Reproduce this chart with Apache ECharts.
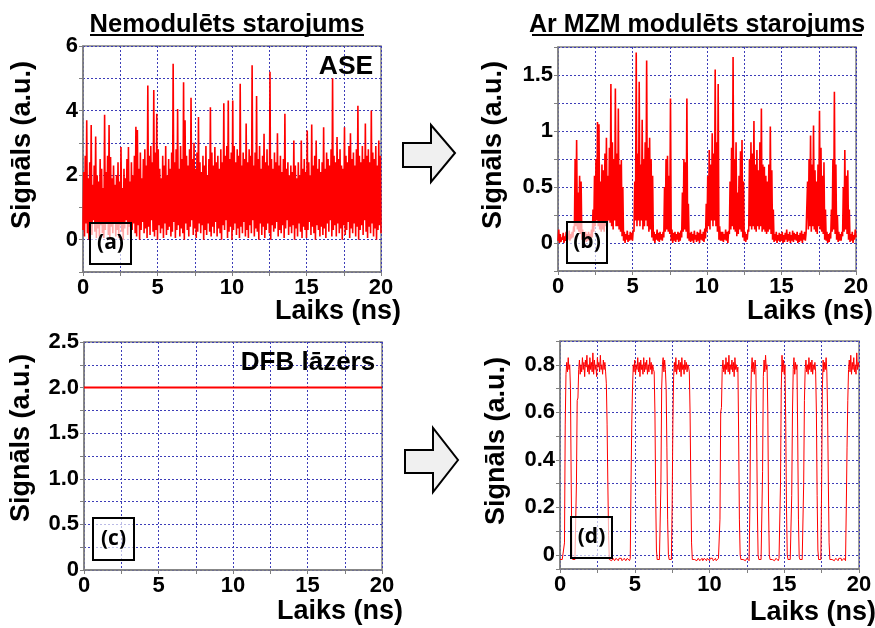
<!DOCTYPE html>
<html><head><meta charset="utf-8">
<script src="https://cdn.jsdelivr.net/npm/echarts@6/dist/echarts.min.js"></script>
<style>html,body{margin:0;padding:0;background:#fff}#c{width:875px;height:628px}</style>
</head><body><div id="c"></div>
<script>
// ---- Data ----
// Panel (a): ASE, unmodulated. Per 0.1 ns bin: low and high of the noisy trace (a.u.)
const aHi = [
2.1,2.6,3.7,1.9,2.4,3.55,1.7,2.3,3.2,2.0,
1.8,2.5,2.2,1.6,3.87,2.1,2.6,3.55,2.56,1.9,
2.3,1.7,2.0,2.4,1.8,2.87,1.6,2.2,1.9,2.5,
2.87,1.8,2.4,2.0,2.6,3.5,3.4,2.2,2.7,1.9,
2.5,2.8,2.3,4.78,2.6,2.9,2.4,4.64,2.7,3.9,
2.8,2.2,1.9,2.6,2.3,2.9,2.0,2.5,2.2,2.7,
5.45,2.4,2.8,4.05,2.2,2.9,2.5,4.88,3.7,2.6,
2.3,2.8,4.4,2.5,3.0,2.2,2.7,3.8,2.4,2.1,
2.6,2.3,2.9,2.0,2.5,4.1,2.7,2.3,2.87,2.4,
2.6,2.2,2.8,2.4,4.23,2.6,2.9,4.31,2.5,2.7,
4.31,2.9,2.4,2.8,2.6,4.83,2.3,2.7,2.5,3.6,
2.4,2.8,2.6,5.4,2.3,2.7,4.45,2.5,2.9,2.2,
2.6,3.28,2.4,2.8,2.3,5.2,2.5,2.2,2.7,2.4,
3.3,2.3,2.6,2.1,2.5,3.9,2.2,2.4,2.0,2.3,
2.1,3.07,2.3,1.9,2.4,2.0,3.07,2.2,2.5,2.1,
3.38,2.4,2.0,3.57,2.3,2.6,3.07,2.2,2.5,2.1,
2.4,3.48,2.2,2.7,2.5,2.3,2.8,5.0,2.6,2.4,
3.18,2.5,2.8,2.3,2.2,3.48,2.6,2.4,2.9,3.3,
2.5,2.7,2.3,2.8,4.15,2.6,2.4,2.9,2.5,3.6,
2.6,2.8,2.4,4.0,2.7,2.5,2.9,2.3,3.07,2.6];
const aLo = [
0.3,0.1,0.5,0.2,0.0,0.4,0.15,0.6,0.25,0.05,
0.35,0.1,0.45,0.2,0.05,0.3,0.55,0.15,0.0,0.4,
0.2,0.5,0.1,0.3,0.05,0.45,0.25,0.0,0.35,0.6,
0.15,0.4,0.05,0.3,0.5,0.2,0.1,0.45,0.0,0.3,
0.55,0.2,0.35,0.05,0.4,0.15,0.6,0.25,0.1,0.3,
0.0,0.45,0.2,0.35,0.05,0.5,0.15,0.3,0.4,0.1,
0.25,0.55,0.05,0.3,0.45,0.1,0.35,0.2,0.0,0.5,
0.3,0.1,0.4,0.6,0.15,0.35,0.05,0.25,0.5,0.2,
0.45,0.0,0.3,0.15,0.5,0.25,0.1,0.4,0.2,0.55,
0.1,0.35,0.2,0.0,0.45,0.3,0.6,0.05,0.25,0.4,
0.0,0.3,0.5,0.15,0.35,0.05,0.4,0.2,0.55,0.1,
0.3,0.05,0.45,0.2,0.6,0.1,0.35,0.25,0.0,0.5,
0.15,0.4,0.05,0.3,0.5,0.2,0.0,0.45,0.25,0.35,
0.55,0.1,0.3,0.2,0.45,0.05,0.35,0.6,0.15,0.4,
0.2,0.45,0.0,0.35,0.1,0.5,0.25,0.05,0.4,0.3,
0.05,0.3,0.55,0.15,0.4,0.2,0.0,0.45,0.3,0.1,
0.4,0.15,0.35,0.05,0.5,0.25,0.6,0.1,0.3,0.45,
0.1,0.5,0.2,0.35,0.0,0.45,0.15,0.3,0.55,0.05,
0.35,0.2,0.5,0.1,0.4,0.0,0.3,0.45,0.15,0.6,
0.25,0.05,0.4,0.2,0.5,0.1,0.35,0.0,0.3,0.45,
0.2];

// Panel (b): ASE after MZM. Per 0.1 ns bin: high and low of the trace (a.u.)
const bHi = [
0.12,0.08,0.05,0.09,0.06,0.1,0.07,0.11,0.08,0.1,
0.15,0.75,0.92,0.45,0.6,0.55,0.12,0.09,0.1,0.08,
0.1,0.08,0.12,0.3,0.6,0.75,1.08,1.06,0.55,0.7,
0.65,0.8,0.94,0.6,0.85,1.42,0.9,0.75,1.38,0.8,
1.2,0.7,0.74,0.5,0.1,0.08,0.11,0.07,0.1,0.09,
0.12,0.55,1.7,0.8,1.44,0.7,1.1,0.75,0.9,1.63,
0.85,0.94,0.75,0.6,0.1,0.08,0.12,0.09,0.1,0.08,
0.1,0.5,0.75,0.78,0.6,1.29,0.12,0.09,0.1,0.08,
0.1,0.09,0.11,0.45,0.75,0.72,1.29,0.35,0.09,0.1,
0.08,0.11,0.07,0.1,0.09,0.12,0.08,0.1,0.13,0.35,
0.6,0.83,0.7,0.98,0.8,1.55,0.9,1.42,0.15,0.1,
0.1,0.08,0.12,0.1,0.11,0.55,0.85,1.66,0.75,0.9,
0.45,0.6,0.82,0.92,0.55,0.1,0.08,0.12,0.75,0.9,
0.8,1.09,0.7,0.83,0.65,0.9,1.2,0.7,0.68,0.6,
0.55,0.7,1.04,0.65,0.3,0.08,0.1,0.07,0.09,0.08,
0.1,0.07,0.09,0.12,0.08,0.1,0.07,0.11,0.09,0.08,
0.1,0.07,0.09,0.11,0.08,0.1,0.09,0.55,0.75,0.96,
0.7,1.05,0.65,0.55,0.7,1.18,0.85,0.6,0.72,0.3,
0.1,0.08,0.09,0.3,0.75,1.35,0.7,0.25,0.1,0.08,
0.1,0.5,0.83,0.6,0.65,0.3,0.08,0.1,0.07,0.12];
const bLo = [
0.02,0.0,0.01,0.03,0.0,0.02,0.01,0.03,0.02,0.04,
0.05,0.1,0.15,0.12,0.1,0.08,0.03,0.02,0.03,0.01,
0.02,0.03,0.04,0.05,0.1,0.15,0.2,0.15,0.12,0.1,
0.12,0.1,0.15,0.1,0.2,0.18,0.15,0.12,0.2,0.15,
0.15,0.12,0.1,0.06,0.02,0.0,0.03,0.01,0.02,0.03,
0.02,0.1,0.2,0.15,0.2,0.15,0.2,0.12,0.15,0.2,
0.15,0.1,0.12,0.05,0.02,0.0,0.03,0.02,0.01,0.03,
0.02,0.05,0.1,0.12,0.1,0.08,0.02,0.0,0.02,0.01,
0.03,0.01,0.02,0.05,0.1,0.12,0.1,0.04,0.02,0.01,
0.02,0.0,0.03,0.01,0.02,0.0,0.03,0.02,0.01,0.04,
0.1,0.15,0.12,0.2,0.15,0.2,0.15,0.1,0.03,0.02,
0.02,0.01,0.03,0.02,0.0,0.08,0.12,0.15,0.12,0.1,
0.06,0.08,0.12,0.1,0.05,0.02,0.01,0.03,0.1,0.15,
0.12,0.15,0.12,0.1,0.15,0.12,0.15,0.1,0.12,0.1,
0.08,0.1,0.12,0.08,0.03,0.01,0.02,0.0,0.02,0.01,
0.02,0.0,0.01,0.03,0.01,0.02,0.0,0.02,0.01,0.03,
0.02,0.0,0.01,0.02,0.0,0.03,0.02,0.08,0.12,0.15,
0.1,0.15,0.12,0.1,0.08,0.15,0.12,0.1,0.08,0.03,
0.02,0.0,0.01,0.04,0.1,0.12,0.08,0.03,0.01,0.02,
0.02,0.06,0.1,0.12,0.08,0.03,0.01,0.02,0.0,0.03,
0.05];

// Panel (c): DFB laser, constant level (a.u.) at start and end times (ns)
const cTimes = [0, 20];
const cValues = [2.0, 2.0];

// Panel (d): DFB after MZM, trace sampled every 0.05 ns (a.u.)
const dTrace = [
-0.02,-0.015,-0.025,-0.02,-0.015,-0.02,0.05,0.55,0.76,
0.81,0.77,0.83,0.78,0.80,0.7,0.3,-0.01,
-0.02,-0.025,-0.015,-0.02,-0.02,0.3,0.65,0.66,0.78,
0.82,0.76,0.80,0.77,0.83,0.78,0.81,0.75,0.82,0.79,
0.84,0.77,0.80,0.76,0.83,0.78,0.81,0.77,0.85,0.76,
0.82,0.78,0.80,0.75,0.83,0.79,0.81,0.77,0.84,0.78,
0.80,0.76,0.82,0.78,0.81,0.77,
0.72,0.55,0.3,0.08,-0.02,
-0.02,-0.015,-0.025,-0.02,-0.015,-0.02,-0.025,-0.02,-0.015,-0.02,
-0.02,-0.025,-0.015,-0.02,-0.02,-0.015,-0.025,-0.02,-0.02,-0.015,
-0.02,-0.025,-0.02,-0.015,-0.02,-0.02,-0.025,-0.015,
0.3,0.55,0.7,0.8,
0.77,0.82,0.76,0.80,0.78,0.83,0.77,0.81,0.75,0.82,
0.78,0.80,0.76,0.83,0.77,0.81,0.78,0.82,0.76,0.80,
0.77,0.83,0.78,0.81,0.76,0.80,0.78,0.77,
0.6,0.25,0.02,
-0.02,-0.025,-0.015,-0.02,-0.02,
0.3,0.7,0.8,
0.83,0.77,0.82,0.78,
0.7,0.45,0.15,0.0,
-0.02,-0.015,-0.025,-0.02,
0.2,0.55,0.75,
0.81,0.77,0.83,0.76,0.80,0.78,0.82,0.77,0.81,0.75,
0.83,0.78,0.80,0.76,0.82,0.78,0.81,0.77,0.80,0.79,0.77,
0.6,0.3,0.05,
-0.02,-0.015,-0.025,-0.02,-0.02,-0.015,-0.025,-0.02,-0.015,-0.02,
-0.025,-0.02,-0.02,-0.015,-0.025,-0.02,-0.015,-0.02,-0.02,-0.025,
-0.015,-0.02,-0.02,-0.025,-0.015,-0.02,-0.02,-0.015,-0.025,-0.02,
-0.02,-0.015,-0.025,-0.02,-0.02,-0.015,-0.02,
0.15,0.6,0.62,0.78,
0.82,0.77,0.80,0.76,0.83,0.78,0.81,0.77,0.84,0.76,
0.80,0.78,0.82,0.77,0.81,0.75,0.83,0.78,0.80,0.77,0.79,
0.5,0.15,0.0,
-0.02,-0.015,-0.025,-0.02,-0.02,-0.015,-0.025,-0.02,-0.015,-0.02,-0.02,-0.025,
0.2,0.6,0.78,
0.83,0.77,0.81,0.76,0.82,0.78,
0.55,0.2,0.0,
-0.02,-0.015,-0.025,-0.02,-0.02,
0.35,0.75,
0.82,0.77,0.84,0.78,0.80,
0.6,0.2,0.0,
-0.02,-0.015,-0.025,-0.02,-0.02,-0.015,-0.025,-0.02,-0.015,-0.02,-0.02,-0.025,-0.015,-0.02,
0.3,0.7,
0.84,0.77,0.82,0.76,0.80,
0.55,0.2,0.0,
-0.02,-0.015,-0.025,-0.02,-0.02,
0.25,0.6,0.78,
0.83,0.76,0.81,0.78,0.80,
0.5,0.15,-0.01,
-0.02,-0.025,-0.015,-0.02,-0.02,
0.3,0.65,0.78,
0.82,0.77,0.80,0.76,0.83,0.78,0.81,0.77,0.82,0.76,0.80,0.78,0.81,0.77,
0.6,0.25,0.02,
-0.02,-0.015,-0.025,-0.02,
0.3,0.7,
0.82,0.77,0.81,0.78,0.83,0.77,
0.6,0.3,0.05,
-0.02,-0.015,-0.025,-0.02,-0.02,-0.015,-0.025,-0.02,-0.015,-0.02,
-0.02,-0.025,-0.015,-0.02,-0.02,-0.015,-0.025,-0.02,-0.02,-0.015,-0.02,-0.025,
0.2,0.45,0.65,0.78,
0.82,0.77,0.84,0.76,0.81,0.78,0.83,0.77,0.80,0.76,0.85,0.78,0.81,0.79];

// Axis tick labels
const xTickLabels = ['0','5','10','15','20'];
const aYLabels = ['0','2','4','6'];
const bYLabels = ['0','0.5','1','1.5'];
const cYLabels = ['0','0.5','1.0','1.5','2.0','2.5'];
const dYLabels = ['0','0.2','0.4','0.6','0.8'];

// Texts
const titleLeft = 'Nemodulēts starojums';
const titleRight = 'Ar MZM modulēts starojums';
const yTitle = 'Signāls (a.u.)';
const xTitle = 'Laiks (ns)';

// ---- Build series data ----
function envelopeTrace(hi, lo, step) {
  const out = [];
  for (let i = 0; i < hi.length; i++) {
    out.push([+(i * step).toFixed(3), lo[i]]);
    out.push([+(i * step + step / 2).toFixed(3), hi[i]]);
  }
  out.push([+(hi.length * step).toFixed(3), lo[hi.length]]);
  return out;
}
const aData = envelopeTrace(aHi, aLo, 0.1);
const bData = envelopeTrace(bHi, bLo, 0.1);
const cData = cTimes.map((t, i) => [t, cValues[i]]);
const dData = dTrace.map((v, k) => [+(k * 0.05).toFixed(3), v]);

// ---- Styling ----
const FF = '"Liberation Sans", Arial, sans-serif';
const axisGray = '#808080';
const gridBlue = '#3c3cb8';

function labelFmt(list) {
  return function (v) {
    for (const s of list) { if (Math.abs(parseFloat(s) - v) < 1e-6) return s; }
    return '';
  };
}
function xAxisCfg(gi) {
  return {
    type: 'value', gridIndex: gi, min: 0, max: 20, interval: 2.5,
    axisLine: { onZero: false, lineStyle: { color: axisGray, width: 1.5 } },
    axisTick: { show: true, length: 4, lineStyle: { color: axisGray } },
    axisLabel: { formatter: labelFmt(xTickLabels), fontFamily: FF, fontWeight: 'bold', fontSize: 22, color: '#000', margin: 5 },
    splitLine: { show: true, lineStyle: { color: gridBlue, type: [2, 2], width: 1 } }
  };
}
function yAxisCfg(gi, extra, labels) {
  return Object.assign({
    type: 'value', gridIndex: gi,
    axisLine: { show: true, lineStyle: { color: axisGray, width: 1.5 } },
    axisTick: { show: true, length: 4, lineStyle: { color: axisGray } },
    axisLabel: { formatter: labelFmt(labels), fontFamily: FF, fontWeight: 'bold', fontSize: 22, color: '#000', margin: 5 },
    splitLine: { show: true, lineStyle: { color: gridBlue, type: [2, 2], width: 1 } }
  }, extra);
}
function lineSeries(gi, data, w) {
  return {
    type: 'line', xAxisIndex: gi, yAxisIndex: gi, data: data, showSymbol: false, symbol: 'none',
    sampling: null, clip: true, animation: false,
    lineStyle: { color: '#ff0000', width: w }
  };
}
function txt(x, y, s, size, rot, font) {
  return {
    type: 'text', x: x, y: y, rotation: rot || 0, z: 100,
    style: { text: s, x: 0, y: 0, align: 'center', verticalAlign: 'middle', textAlign: 'center', textVerticalAlign: 'middle',
      fontFamily: font || FF, fontWeight: 'bold', fontSize: size, fill: '#000' }
  };
}
function box(x, y, w, h, label) {
  return [
    { type: 'rect', z: 100, shape: { x: x, y: y, width: w, height: h },
      style: { fill: 'rgba(255,255,255,0.65)', stroke: '#000', lineWidth: 2 } },
    txt(x + w / 2, y + h / 2, label, 21, 0, '"Open Sans", sans-serif')
  ];
}
function arrow(pts) {
  return { type: 'polygon', z: 100, shape: { points: pts },
    style: { fill: '#f0f0f0', stroke: '#000', lineWidth: 2, lineJoin: 'miter' } };
}

const grids = [
  { left: 83, top: 46, width: 298, height: 226 },
  { left: 558, top: 47, width: 298, height: 224 },
  { left: 84, top: 342, width: 298, height: 228 },
  { left: 560, top: 341, width: 299, height: 228 }
].map(g => Object.assign({ show: true, borderColor: axisGray, borderWidth: 1.5, backgroundColor: 'transparent' }, g));

const option = {
  animation: false,
  backgroundColor: '#ffffff',
  grid: grids,
  xAxis: [xAxisCfg(0), xAxisCfg(1), xAxisCfg(2), xAxisCfg(3)],
  yAxis: [
    yAxisCfg(0, { min: -1, max: 6, interval: 1 }, aYLabels),
    yAxisCfg(1, { min: -0.25, max: 1.75, interval: 0.25 }, bYLabels),
    yAxisCfg(2, { min: 0, max: 2.5, interval: 0.25 }, cYLabels),
    yAxisCfg(3, { min: -0.06, max: 0.9, splitNumber: 10, minInterval: 0.1, maxInterval: 0.1 }, dYLabels)
  ],
  series: [
    lineSeries(0, aData, 1.6),
    lineSeries(1, bData, 1.6),
    lineSeries(2, cData, 2),
    lineSeries(3, dData, 1)
  ],
  graphic: [].concat(
    [txt(227, 25, titleLeft, 25.5), { type: 'line', z: 100, shape: { x1: 90, y1: 35, x2: 364, y2: 35 }, style: { stroke: '#000', lineWidth: 2 } }],
    [txt(697, 25, titleRight, 25), { type: 'line', z: 100, shape: { x1: 532, y1: 35, x2: 862, y2: 35 }, style: { stroke: '#000', lineWidth: 2 } }],
    [txt(23, 145, yTitle, 27, Math.PI / 2), txt(494, 145, yTitle, 27, Math.PI / 2),
     txt(22, 438, yTitle, 27, Math.PI / 2), txt(497, 441, yTitle, 27, Math.PI / 2)],
    [txt(338, 312, xTitle, 27), txt(810, 312, xTitle, 27), txt(340, 612, xTitle, 27), txt(813, 613, xTitle, 27)],
    [txt(346, 67, 'ASE', 26.5), txt(308, 363, 'DFB lāzers', 26)],
    box(90, 223, 41, 41, '(a)'), box(567, 222, 40, 41, '(b)'),
    box(93, 518, 41, 42, '(c)'), box(571, 517, 41, 41, '(d)'),
    [arrow([[403, 143], [431, 143], [431, 125], [455, 153], [431, 182], [431, 167], [403, 167]]),
     arrow([[405, 450], [433, 450], [433, 428], [458, 460], [433, 492], [433, 473], [405, 473]])]
  )
};
const chart = echarts.init(document.getElementById('c'), null, { renderer: 'canvas', width: 875, height: 628 });
chart.setOption(option);
</script>
</body></html>
